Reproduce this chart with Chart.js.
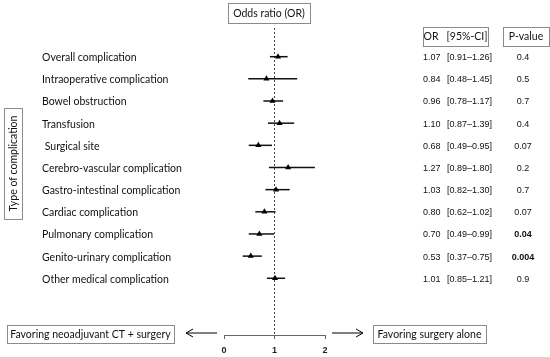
<!DOCTYPE html>
<html>
<head>
<meta charset="utf-8">
<script src="https://cdn.jsdelivr.net/npm/chart.js@4.4.1/dist/chart.umd.min.js"></script>
<style>
html, body { margin: 0; padding: 0; background: #fff; }
</style>
</head>
<body>
<canvas id="forestChart" width="550" height="357"></canvas>
<script>
// data
const categories = ['Overall complication', 'Intraoperative complication', 'Bowel obstruction', 'Transfusion',
  ' Surgical site', 'Cerebro-vascular complication', 'Gastro-intestinal complication', 'Cardiac complication',
  'Pulmonary complication', 'Genito-urinary complication', 'Other medical complication']
const orValues = [1.07, 0.84, 0.96, 1.10, 0.68, 1.27, 1.03, 0.80, 0.70, 0.53, 1.01]
const ciLow = [0.91, 0.48, 0.78, 0.87, 0.49, 0.89, 0.82, 0.62, 0.49, 0.37, 0.85]
const ciHigh = [1.26, 1.45, 1.17, 1.39, 0.95, 1.80, 1.30, 1.02, 0.99, 0.75, 1.21]
const pValues = ['0.4', '0.5', '0.7', '0.4', '0.07', '0.2', '0.7', '0.07', '0.04', '0.004', '0.9']
const xTicks = [0, 1, 2]

const labelFont = '10.5px Lato'
const numFont = '9px "Liberation Sans"'
const boxColor = '#8a8a8a'

var rowMin = -1.295
var rowMax = 12.56

var datasets = []

// triangles for the odds ratios
datasets.push({
  label: 'OR',
  data: orValues.map(function (v, i) { return { x: v, y: i } }),
  pointStyle: 'triangle',
  pointRadius: 3.5,
  backgroundColor: '#000',
  borderColor: '#000',
  borderWidth: 0,
  showLine: false,
  order: 0
})

// confidence interval lines
for (var i = 0; i < categories.length; i++) {
  datasets.push({
    label: 'CI ' + i,
    data: [{ x: ciLow[i], y: i }, { x: ciHigh[i], y: i }],
    showLine: true,
    borderColor: '#111',
    borderWidth: 1.5,
    pointRadius: 0,
    order: 1
  })
}

// reference line at OR = 1
datasets.push({
  label: 'ref',
  data: [{ x: 1, y: rowMin }, { x: 1, y: rowMax }],
  showLine: true,
  borderColor: '#444',
  borderWidth: 1,
  borderDash: [2, 2],
  pointRadius: 0,
  order: 2
})

function drawBox(ctx, x, y, w, h) {
  ctx.save()
  ctx.strokeStyle = boxColor
  ctx.lineWidth = 1
  ctx.strokeRect(x + 0.5, y + 0.5, w, h)
  ctx.restore()
}

function drawArrow(ctx, x1, x2, y) {
  var dir = x2 > x1 ? 1 : -1
  ctx.save()
  ctx.strokeStyle = '#000'
  ctx.lineWidth = 1
  ctx.beginPath()
  ctx.moveTo(x1, y)
  ctx.lineTo(x2, y)
  ctx.moveTo(x2 - dir * 7, y - 4)
  ctx.lineTo(x2, y)
  ctx.lineTo(x2 - dir * 7, y + 4)
  ctx.stroke()
  ctx.restore()
}

const textPlugin = {
  id: 'forestText',
  afterDraw: function (chart) {
    var ctx = chart.ctx
    var yScale = chart.scales.y
    ctx.save()
    ctx.fillStyle = '#111'
    ctx.textBaseline = 'middle'

    // row labels and table
    for (var i = 0; i < categories.length; i++) {
      var y = yScale.getPixelForValue(i) + 1
      ctx.font = labelFont
      ctx.textAlign = 'left'
      ctx.fillText(categories[i], 42, y)

      ctx.font = numFont
      ctx.fillText(orValues[i].toFixed(2), 423, y)
      ctx.fillText('[' + ciLow[i].toFixed(2) + '\u2013' + ciHigh[i].toFixed(2) + ']', 447, y)
      ctx.textAlign = 'center'
      ctx.font = (Number(pValues[i]) < 0.05 ? 'bold ' : '') + numFont
      ctx.fillText(pValues[i], 523, y)
    }

    // headers
    ctx.font = labelFont
    drawBox(ctx, 228, 3, 82, 20)
    ctx.textAlign = 'center'
    ctx.fillText('Odds ratio (OR)', 269, 13.5)

    drawBox(ctx, 423, 27, 65, 19)
    ctx.fillText('OR   [95%-CI]', 455.5, 37)
    drawBox(ctx, 503, 27, 46, 19)
    ctx.fillText('P-value', 526, 37)

    // vertical axis title
    drawBox(ctx, 4, 108, 18, 111)
    ctx.save()
    ctx.translate(13.5, 163.5)
    ctx.rotate(-Math.PI / 2)
    ctx.fillText('Type of complication', 0, 0)
    ctx.restore()

    // bottom boxes and arrows
    drawBox(ctx, 7, 325, 167, 18)
    ctx.fillText('Favoring neoadjuvant CT + surgery', 90.5, 334.5)
    drawBox(ctx, 373, 325, 113, 18)
    ctx.fillText('Favoring surgery alone', 429.5, 334.5)
    drawArrow(ctx, 217, 186, 333)
    drawArrow(ctx, 332, 363, 333)

    ctx.restore()
  }
}

var ctx = document.getElementById('forestChart')
var forestChart = new Chart(ctx, {
  type: 'scatter',
  data: { datasets: datasets },
  options: {
    responsive: false,
    animation: false,
    devicePixelRatio: 1,
    layout: { padding: { left: 224, right: 225, top: 28, bottom: 0 } },
    plugins: {
      legend: { display: false },
      tooltip: { enabled: false }
    },
    scales: {
      x: {
        type: 'linear',
        min: xTicks[0],
        max: xTicks[xTicks.length - 1],
        afterFit: function (scale) { scale.height = 22 },
        afterBuildTicks: function (scale) {
          scale.ticks = xTicks.map(function (v) { return { value: v } })
        },
        grid: { drawOnChartArea: false, tickLength: 4, color: '#666' },
        border: { display: true, color: '#666', width: 1 },
        ticks: {
          padding: 6,
          color: '#222',
          font: { family: 'Liberation Sans', size: 9, weight: 'bold' }
        }
      },
      y: {
        type: 'linear',
        reverse: true,
        min: rowMin,
        max: rowMax,
        display: false
      }
    }
  },
  plugins: [textPlugin]
})
</script>
</body>
</html>
